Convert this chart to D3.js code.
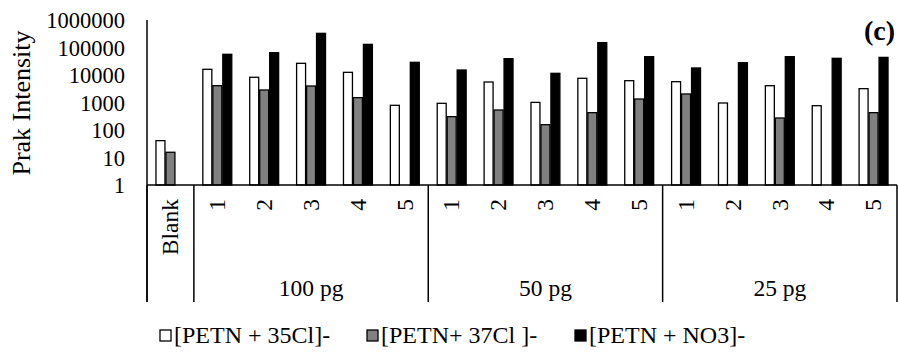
<!DOCTYPE html>
<html>
<head>
<meta charset="utf-8">
<script src="https://cdn.jsdelivr.net/npm/d3@7"></script>
<style>
  body { margin: 0; background: #fff; }
  text { font-family: "Liberation Serif", "Times New Roman", serif; fill: #000; }
</style>
</head>
<body>
<script>
// chart data
var categories = ["Blank", "1", "2", "3", "4", "5", "1", "2", "3", "4", "5", "1", "2", "3", "4", "5"];
var groupLabels = ["", "100 pg", "50 pg", "25 pg"];
var groupSizes = [1, 5, 5, 5];
var seriesNames = ["[PETN + 35Cl]-", "[PETN+ 37Cl ]-", "[PETN + NO3]-"];
var cl35 = [41, 16100, 8250, 26600, 12500, 790, 935, 5560, 1010, 7590, 6210, 5710, 960, 4080, 765, 3180];
var cl37 = [15.5, 4100, 2850, 3980, 1500, null, 305, 534, 156, 427, 1340, 2040, null, 273, null, 427];
var no3 = [null, 56600, 64700, 327000, 130000, 28900, 15200, 39200, 11500, 150000, 46400, 18000, 28000, 46400, 40400, 43700];
var yTicks = [1, 10, 100, 1000, 10000, 100000, 1000000];

var fills = ["#ffffff", "#808080", "#000000"];
var allSeries = [cl35, cl37, no3];

var width = 898, height = 354;
var plotLeft = 147, plotRight = 897, plotTop = 20, base = 185, axisBottom = 302;

var svg = d3.select("body").append("svg")
    .attr("width", width)
    .attr("height", height);

var x = d3.scaleBand()
    .domain(d3.range(categories.length))
    .range([plotLeft, plotRight])
    .paddingInner(0)
    .paddingOuter(0);

var xs = d3.scaleBand()
    .domain(d3.range(seriesNames.length))
    .range([0, x.bandwidth()])
    .paddingInner(0.1)
    .paddingOuter(0.9);

var y = d3.scaleLog()
    .domain([1, 1000000])
    .range([base, plotTop]);

// bars
var barData = [];
categories.forEach(function (c, i) {
    allSeries.forEach(function (s, k) {
        if (s[i] != null) barData.push({ cat: i, s: k, v: s[i] });
    });
});

svg.append("g").selectAll("rect")
    .data(barData)
    .enter()
    .append("rect")
    .attr("x", function (d) { return x(d.cat) + xs(d.s); })
    .attr("width", xs.bandwidth())
    .attr("y", function (d) { return y(d.v); })
    .attr("height", function (d) { return base - y(d.v); })
    .attr("fill", function (d) { return fills[d.s]; })
    .attr("stroke", "#000")
    .attr("stroke-width", 1.3);

// y axis
var yAxis = d3.axisLeft(y)
    .tickValues(yTicks)
    .tickFormat(d3.format("d"))
    .tickSize(0)
    .tickPadding(22);

var yg = svg.append("g")
    .attr("transform", "translate(" + plotLeft + ",0)")
    .call(yAxis);
yg.select(".domain").remove();
yg.selectAll("text")
    .attr("font-size", 22.5)
    .attr("dy", "0.35em")
    .style("font-family", "'Liberation Serif', serif");

svg.append("line")
    .attr("x1", plotLeft).attr("x2", plotLeft)
    .attr("y1", plotTop).attr("y2", axisBottom)
    .attr("stroke", "#000").attr("stroke-width", 1.5);

svg.append("line")
    .attr("x1", plotLeft).attr("x2", plotRight)
    .attr("y1", base).attr("y2", base)
    .attr("stroke", "#000").attr("stroke-width", 1.5);

// multi level category axis
var starts = [0];
groupSizes.forEach(function (n, i) { starts.push(starts[i] + n); });

starts.forEach(function (s) {
    var xx = s < categories.length ? x(s) : plotRight;
    svg.append("line")
        .attr("x1", xx).attr("x2", xx)
        .attr("y1", base).attr("y2", axisBottom)
        .attr("stroke", "#000").attr("stroke-width", 1.5);
});

svg.append("g").selectAll("text")
    .data(categories)
    .enter()
    .append("text")
    .attr("transform", function (d, i) {
        return "translate(" + (x(i) + x.bandwidth() / 2) + ",199) rotate(-90)";
    })
    .attr("text-anchor", "end")
    .attr("dy", "0.33em")
    .attr("font-size", 23.5)
    .text(function (d) { return d; });

svg.append("g").selectAll("text")
    .data(groupLabels)
    .enter()
    .append("text")
    .attr("x", function (d, i) {
        return x(starts[i]) + groupSizes[i] * x.step() / 2;
    })
    .attr("y", 296)
    .attr("text-anchor", "middle")
    .attr("font-size", 23.5)
    .text(function (d) { return d; });

// axis title
svg.append("text")
    .attr("transform", "translate(30,103) rotate(-90)")
    .attr("text-anchor", "middle")
    .attr("font-size", 26)
    .text("Prak Intensity");

// panel tag
svg.append("text")
    .attr("x", 895)
    .attr("y", 40)
    .attr("text-anchor", "end")
    .attr("font-size", 28)
    .attr("font-weight", "bold")
    .text("(c)");

// legend
var legendX = [160, 367, 575];
var legend = svg.append("g").selectAll("g")
    .data(seriesNames)
    .enter()
    .append("g")
    .attr("transform", function (d, i) { return "translate(" + legendX[i] + ",330)"; });

legend.append("rect")
    .attr("width", 11).attr("height", 11)
    .attr("fill", function (d, i) { return fills[i]; })
    .attr("stroke", "#000").attr("stroke-width", 1.3);

legend.append("text")
    .attr("x", 14)
    .attr("y", 13)
    .attr("font-size", 24)
    .text(function (d) { return d; });
</script>
</body>
</html>
